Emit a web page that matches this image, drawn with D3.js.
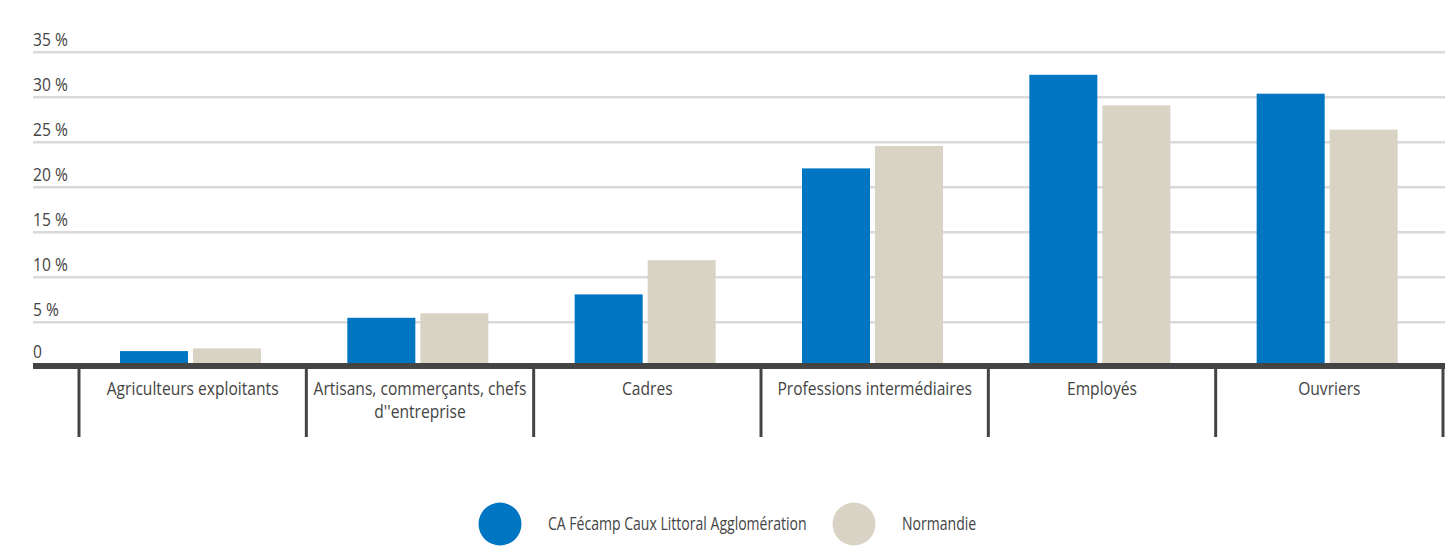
<!DOCTYPE html>
<html><head><meta charset="utf-8">
<script src="https://cdn.jsdelivr.net/npm/d3@7"></script>
<style>
body{margin:0;background:#fff;}
svg{display:block;}
text{font-family:"Open Sans","Noto Sans",sans-serif;fill:#444;}
</style></head>
<body>
<svg id="c" width="1445" height="553"></svg>
<script>
const categories = ["Agriculteurs exploitants","Artisans, commerçants, chefs d''entreprise","Cadres","Professions intermédiaires","Employés","Ouvriers"];
const seriesNames = ["CA Fécamp Caux Littoral Agglomération","Normandie"];
const valuesFecamp = [1.8, 5.5, 8.1, 22.1, 32.5, 30.4];
const valuesNormandie = [2.1, 6.0, 11.9, 24.6, 29.1, 26.4];
const tickValues = [0,5,10,15,20,25,30,35];
const tickLabels = ["0","5 %","10 %","15 %","20 %","25 %","30 %","35 %"];
const colors = ["#0075c2","#d9d3c6"];

const svg = d3.select("#c");
const FS = 18;
function measure(txt, fs){
  const t = svg.append("text").attr("font-size",fs).text(txt);
  const w = t.node().getComputedTextLength(); t.remove(); return w;
}
// condensed look: compress horizontally to match the reference's condensed face
const SX = 172 / measure("Agriculteurs exploitants", FS);
const SXL = 259 / measure(seriesNames[0], FS);

function label(g, x, yy, txt, anchor, sx){
  return g.append("text")
    .attr("transform",`translate(${x},${yy}) scale(${sx||SX},1)`)
    .attr("font-size",FS).attr("text-anchor",anchor||"start").text(txt);
}

const y = d3.scaleLinear().domain([0,35]).range([367.3,52.3]);
const x0 = d3.scaleBand().domain(categories).range([79,1443]).paddingInner(0).paddingOuter(0);
const x1 = d3.scaleBand().domain(seriesNames).range([41,182]).paddingInner(0.0685);

// gridlines
const grid = svg.append("g");
grid.selectAll("line").data(tickValues.filter(d=>d>0)).join("line")
  .attr("x1",33).attr("x2",1445)
  .attr("y1",d=>y(d)).attr("y2",d=>y(d))
  .attr("stroke","#d9d9d9").attr("stroke-width",2.5);
tickValues.forEach((d,i)=>label(grid,33,y(d)-(d===0?9:6.5),tickLabels[i]));

// bars
const data = categories.map((c,i)=>({cat:c, vals:[valuesFecamp[i], valuesNormandie[i]]}));
const groups = svg.append("g").selectAll("g").data(data).join("g")
  .attr("transform",d=>`translate(${x0(d.cat)},0)`);
groups.selectAll("rect").data(d=>d.vals.map((v,j)=>({s:seriesNames[j],v,j}))).join("rect")
  .attr("x",d=>x1(d.s)).attr("width",x1.bandwidth())
  .attr("y",d=>y(d.v)).attr("height",d=>y(0)-y(d.v))
  .attr("fill",d=>colors[d.j]);

// axis line
svg.append("line").attr("x1",33).attr("x2",1445)
  .attr("y1",y(0)-1.3).attr("y2",y(0)-1.3)
  .attr("stroke","#444").attr("stroke-width",6);

// category separators
const seps = categories.map(c=>x0(c)).concat([x0.range()[1]]);
svg.append("g").selectAll("line").data(seps).join("line")
  .attr("x1",d=>d).attr("x2",d=>d)
  .attr("y1",y(0)).attr("y2",437)
  .attr("stroke","#444").attr("stroke-width",3);

// category labels with wrapping
const labG = svg.append("g");
categories.forEach(c=>{
  const cx = x0(c)+x0.bandwidth()/2;
  const words = c.split(" ");
  const lines=[]; let line=[];
  words.forEach(w=>{
    const test = line.concat([w]).join(" ");
    if(measure(test,FS)*SX>222 && line.length){
      lines.push(line.join(" ")); line=[w];
    } else line.push(w);
  });
  lines.push(line.join(" "));
  lines.forEach((l,k)=>label(labG,cx,395+k*23,l,"middle"));
});

// legend
const leg = svg.append("g");
const legX = [500, 854];
seriesNames.forEach((s,i)=>{
  leg.append("circle").attr("cx",legX[i]).attr("cy",524).attr("r",21.5).attr("fill",colors[i]);
  label(leg,legX[i]+48,530,s,"start",SXL);
});
</script>
</body></html>
